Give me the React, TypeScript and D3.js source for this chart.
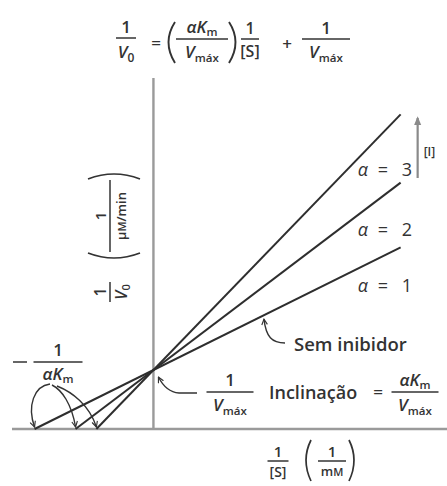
import React from "react";
import * as d3 from "d3";

// Lineweaver–Burk plot for competitive inhibition
const alphaValues = [1, 2, 3];
// x-intercepts (−1/αKm) in units of 1/[S]
const xIntercepts = [-1.0, -0.655, -0.48];
// common y-intercept, 1/Vmáx
const invVmax = 1;
// right end of each line, in units of 1/[S]
const xLineEnd = 2.08;

const W = 447;
const H = 486;
const FONT = "'Open Sans', 'Noto Sans', sans-serif";
const INK = "#333333";
const AXIS = "#9a9a9a";

const x = d3.scaleLinear().domain([-1.19, 2.47]).range([12, 447]);
const y = d3.scaleLinear().domain([0, 6]).range([429, 75]);

const lineGen = d3
  .line<[number, number]>()
  .x((d) => x(d[0]))
  .y((d) => y(d[1]));

const lineValue = (xi: number, xv: number) => invVmax * (1 - xv / xi);

const Vmax = ({ fs }: { fs: number }) => (
  <>
    <tspan fontStyle="italic">V</tspan>
    <tspan fontSize={fs * 0.68} dy={4}>máx</tspan>
  </>
);

const AKm = ({ fs }: { fs: number }) => (
  <>
    <tspan fontStyle="italic">α</tspan>
    <tspan fontStyle="italic">K</tspan>
    <tspan fontSize={fs * 0.68} dy={3}>m</tspan>
  </>
);

type FracProps = {
  cx: number;
  y: number;
  w: number;
  fs: number;
  num: React.ReactNode;
  den: React.ReactNode;
  numGap?: number;
  denGap?: number;
  fsDen?: number;
};

const Frac = ({ cx, y: yb, w, fs, num, den, numGap = 5, denGap = 17, fsDen }: FracProps) => (
  <g>
    <text x={cx} y={yb - numGap} fontSize={fs} textAnchor="middle">
      {num}
    </text>
    <line x1={cx - w / 2} x2={cx + w / 2} y1={yb} y2={yb} stroke={INK} strokeWidth={1.5} />
    <text x={cx} y={yb + denGap} fontSize={fsDen ?? fs} textAnchor="middle">
      {den}
    </text>
  </g>
);

export default function App() {
  const x0 = x(0);
  const yBase = y(0);
  const yInt = y(invVmax);
  const labelY = [292, 236, 176];
  const ends = xIntercepts.map((xi) => lineValue(xi, xLineEnd));

  return (
    <svg
      width={W}
      height={H}
      viewBox={`0 0 ${W} ${H}`}
      style={{ position: "absolute", left: 0, top: 0, background: "#fff" }}
      fontFamily={FONT}
      fontWeight={600}
      fill={INK}
    >
      <defs>
        <marker
          id="openArrow"
          viewBox="0 0 10 10"
          refX={9}
          refY={5}
          markerWidth={7}
          markerHeight={7}
          orient="auto"
          markerUnits="userSpaceOnUse"
        >
          <path d="M1,1 L9,5 L1,9" fill="none" stroke={INK} strokeWidth={1.6} />
        </marker>
        <marker
          id="solidArrow"
          viewBox="0 0 10 10"
          refX={8}
          refY={5}
          markerWidth={9}
          markerHeight={9}
          orient="auto"
          markerUnits="userSpaceOnUse"
        >
          <path d="M0,1 L10,5 L0,9 Z" fill="#8a8a8a" />
        </marker>
      </defs>

      {/* axes */}
      <line x1={x(-1.19)} x2={x(2.47)} y1={yBase} y2={yBase} stroke={AXIS} strokeWidth={2.4} />
      <line x1={x0} x2={x0} y1={y(5.95)} y2={yBase} stroke={AXIS} strokeWidth={2.4} />

      {/* one line per value of α */}
      {xIntercepts.map((xi, i) => (
        <path
          key={alphaValues[i]}
          d={lineGen([
            [xi, 0],
            [xLineEnd, ends[i]],
          ]) as string}
          fill="none"
          stroke="#2e2e2e"
          strokeWidth={2}
        />
      ))}

      {/* α labels */}
      {alphaValues.map((a, i) => (
        <text key={a} y={labelY[i]} fontSize={18} fontWeight={500}>
          <tspan x={x(xLineEnd) - 43} fontStyle="italic">α</tspan>
          <tspan x={x(xLineEnd) - 23}>=</tspan>
          <tspan x={x(xLineEnd) + 1}>{a}</tspan>
        </text>
      ))}

      {/* increasing [I] arrow */}
      <line
        x1={x(xLineEnd) + 17}
        x2={x(xLineEnd) + 17}
        y1={178}
        y2={118}
        stroke="#8a8a8a"
        strokeWidth={2.2}
        markerEnd="url(#solidArrow)"
      />
      <text x={x(xLineEnd) + 23} y={156} fontSize={12}>[I]</text>

      {/* equation */}
      <g>
        <Frac cx={126} y={38} w={20} fs={17} num="1" den={<><tspan fontStyle="italic">V</tspan><tspan fontSize={12} dy={4}>0</tspan></>} denGap={20} />
        <text x={156} y={49} fontSize={17} textAnchor="middle">=</text>
        <path d="M175,22 Q162,42 175,63" fill="none" stroke={INK} strokeWidth={1.9} />
        <Frac cx={202} y={39} w={52} fs={17} num={<AKm fs={17} />} den={<Vmax fs={17} />} numGap={6} denGap={19} />
        <path d="M229,22 Q242,42 229,63" fill="none" stroke={INK} strokeWidth={1.9} />
        <Frac cx={250} y={39} w={18} fs={16} num="1" den="[S]" denGap={18} />
        <text x={287} y={50} fontSize={17} textAnchor="middle">+</text>
        <Frac cx={326} y={39} w={48} fs={17} num="1" den={<Vmax fs={17} />} denGap={19} />
      </g>

      {/* y-axis title, rotated */}
      <g transform="translate(110,0) rotate(-90)">
        <Frac cx={-292} y={0} w={20} fs={16} num="1" den={<><tspan fontStyle="italic">V</tspan><tspan fontSize={11} dy={3}>0</tspan></>} numGap={4} denGap={17} />
        <path d="M-253,-22 Q-263,4 -253,30" fill="none" stroke={INK} strokeWidth={1.7} />
        <Frac cx={-216} y={0} w={72} fs={15} num="1" den={<>μ<tspan fontSize={11}>M</tspan>/min</>} fsDen={13} numGap={4} denGap={16} />
        <path d="M-179,-22 Q-169,4 -179,30" fill="none" stroke={INK} strokeWidth={1.7} />
      </g>

      {/* −1/αKm with arrows to the x-intercepts */}
      <line x1={13} x2={27} y1={362} y2={362} stroke={INK} strokeWidth={1.5} />
      <Frac cx={58} y={362} w={49} fs={17} num="1" den={<AKm fs={17} />} numGap={6} denGap={18} />
      {xIntercepts.map((xi, i) => {
        const tx = x(xi);
        const ty = yBase - 2;
        const starts = [
          `M50,384 C34,386 27,406 ${tx},${ty}`,
          `M52,385 C62,390 ${tx - 4},404 ${tx},${ty}`,
          `M57,386 C72,392 ${tx - 7},405 ${tx},${ty}`,
        ];
        return (
          <path key={i} d={starts[i]} fill="none" stroke={INK} strokeWidth={1.4} markerEnd="url(#openArrow)" />
        );
      })}

      {/* 1/Vmáx at the y-intercept */}
      <path
        d={`M197,393 L179,393 Q166,392 ${x0 + 5},${yInt + 7}`}
        fill="none"
        stroke={INK}
        strokeWidth={1.4}
        markerEnd="url(#openArrow)"
      />
      <Frac cx={230} y={392} w={47} fs={17} num="1" den={<Vmax fs={17} />} numGap={6} denGap={19} />
      <text x={269} y={399} fontSize={18}>Inclinação</text>
      <text x={378} y={398} fontSize={17} textAnchor="middle">=</text>
      <Frac cx={415} y={392} w={47} fs={17} num={<AKm fs={17} />} den={<Vmax fs={17} />} numGap={6} denGap={19} />

      {/* no-inhibitor label */}
      <path
        d={`M285,343 C272,343 266,337 ${x(0.93)},${y(lineValue(xIntercepts[0], 0.93)) + 4}`}
        fill="none"
        stroke={INK}
        strokeWidth={1.4}
        markerEnd="url(#openArrow)"
      />
      <text x={294} y={351} fontSize={18.5}>Sem inibidor</text>

      {/* x-axis title */}
      <Frac cx={278} y={461} w={21} fs={15} num="1" den="[S]" fsDen={14} numGap={4} denGap={16} />
      <path d="M311,440 Q301,460 311,481" fill="none" stroke={INK} strokeWidth={1.7} />
      <Frac cx={332} y={461} w={28} fs={15} num="1" den={<>m<tspan fontSize={11}>M</tspan></>} fsDen={13} numGap={4} denGap={15} />
      <path d="M349,440 Q359,460 349,481" fill="none" stroke={INK} strokeWidth={1.7} />
    </svg>
  );
}
